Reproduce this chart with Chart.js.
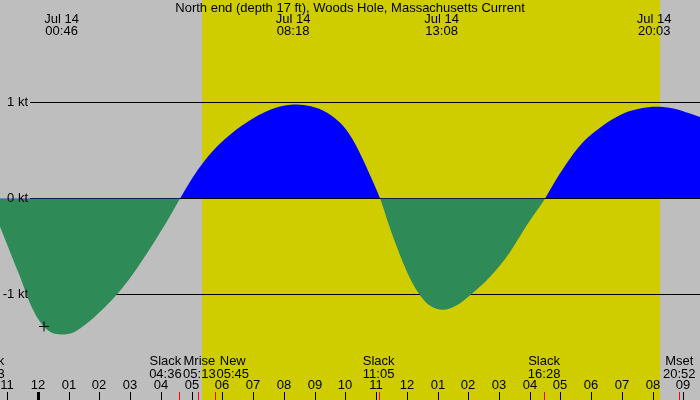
<!DOCTYPE html>
<html>
<head>
<meta charset="utf-8">
<script src="https://cdn.jsdelivr.net/npm/chart.js@4/dist/chart.umd.min.js"></script>
<style>
  html, body { margin: 0; padding: 0; background: #bebebe; }
  #tideChart { display: block; }
</style>
</head>
<body>
<canvas id="tideChart" width="700" height="400"></canvas>
<script>
// Chart title
const chartTitle = 'North end (depth 17 ft), Woods Hole, Massachusetts Current';

// Current speed (kt), hours from Jul 14 00:00
const tideHours = [-1.617, -1.237, -0.911, -0.586, -0.260, 0.065, 0.390, 0.771, 1.149, 1.585, 2.018, 2.561, 3.101, 3.645, 4.188, 4.621,
    4.946, 5.272, 5.815, 6.355, 6.899, 7.442, 7.982, 8.308, 8.744, 9.284, 9.828, 10.153, 10.479, 10.804, 11.13,
    11.455, 11.78, 12.106, 12.431, 12.757, 13.17, 13.625, 14.058, 14.709, 15.359, 15.903, 16.498,
    16.879, 17.312, 17.745, 18.396, 19.047, 19.59, 20.134, 20.673, 21.217, 21.542];
const tideKnots = [0, -0.295, -0.556, -0.816, -1.094, -1.285, -1.389, -1.417, -1.396, -1.302, -1.18, -1.0, -0.78, -0.52, -0.243, 0,
    0.174, 0.33, 0.538, 0.694, 0.816, 0.91, 0.965, 0.979, 0.968, 0.915, 0.79, 0.66, 0.469, 0.243, 0,
    -0.3125, -0.59, -0.833, -1.007, -1.118, -1.16, -1.111, -1.007, -0.816, -0.556, -0.278, 0,
    0.208, 0.417, 0.59, 0.764, 0.885, 0.9375, 0.955, 0.9375, 0.885, 0.85];

// Max flood / max ebb labels along the top
const peakHours = [0.767, 8.3, 13.133, 20.05];
const peakClock = ['00:46', '08:18', '13:08', '20:03'];
const peakDate = 'Jul 14';

// Events along the bottom
const eventNames = ['Slack', 'Slack', 'Mrise', 'New', 'Slack', 'Slack', 'Mset'];
const eventClock = ['22:23', '04:36', '05:13', '05:45', '11:05', '16:28', '20:52'];
const eventHours = [-1.617, 4.6, 5.217, 5.75, 11.083, 16.467, 20.867];

// Hour tick labels
const hourTicks = [-1, 0, 1, 2, 3, 4, 5, 6, 7, 8, 9, 10, 11, 12, 13, 14, 15, 16, 17, 18, 19, 20, 21];
const hourLabels = ['11', '12', '01', '02', '03', '04', '05', '06', '07', '08', '09', '10',
    '11', '12', '01', '02', '03', '04', '05', '06', '07', '08', '09'];

// Speed grid lines
const knotLines = [1, 0, -1];
const knotLabels = ['1 kt', '0 kt', '-1 kt'];

// Daylight (sunrise, sunset) and the "now" mark
const daylight = [5.337, 20.24];
const nowMark = { x: 0.195, y: -1.333 };

const xMin = -1.2376, xMax = 21.54;
const yMax = 198.5 / 96, yMin = -(400 - 198.5) / 96;

const FONT = '13px "Liberation Sans", Arial, sans-serif';
const GREY = '#bebebe';
const DAY = '#cfcd00';

// label nudges so close events do not overlap
const eventNudge = [0, -14, 1, 18, 0, 0, 0];

const tidePlugin = {
    id: 'tidePlugin',
    beforeDraw(chart) {
        const ctx = chart.ctx;
        const xs = chart.scales.x;
        ctx.save();
        ctx.fillStyle = GREY;
        ctx.fillRect(0, 0, chart.width, chart.height);
        ctx.fillStyle = DAY;
        const x1 = Math.round(xs.getPixelForValue(daylight[0]));
        const x2 = Math.round(xs.getPixelForValue(daylight[1]));
        ctx.fillRect(x1, 0, x2 - x1, chart.height);
        ctx.restore();
    },
    beforeDatasetsDraw(chart) {
        const ctx = chart.ctx;
        const ys = chart.scales.y;
        ctx.save();
        ctx.strokeStyle = '#000';
        ctx.lineWidth = 1;
        knotLines.forEach(v => {
            const y = Math.floor(ys.getPixelForValue(v)) + 0.5;
            ctx.beginPath();
            ctx.moveTo(30, y);
            ctx.lineTo(chart.width, y);
            ctx.stroke();
        });
        ctx.restore();
    },
    afterDatasetsDraw(chart) {
        const ctx = chart.ctx;
        const xs = chart.scales.x;
        const ys = chart.scales.y;
        ctx.save();

        // zero line shows through the flood parts only
        ctx.strokeStyle = '#000';
        ctx.lineWidth = 1;
        const y0 = Math.floor(ys.getPixelForValue(0)) + 0.5;
        let start = null;
        for (let i = 0; i < tideHours.length; i++) {
            if (tideKnots[i] > 0 && start === null) start = tideHours[i - 1];
            if (tideKnots[i] <= 0 && start !== null && i > 0 && tideKnots[i - 1] > 0) {
                ctx.beginPath();
                ctx.moveTo(xs.getPixelForValue(start), y0);
                ctx.lineTo(xs.getPixelForValue(tideHours[i]), y0);
                ctx.stroke();
                start = null;
            }
        }
        if (start !== null) {
            ctx.beginPath();
            ctx.moveTo(xs.getPixelForValue(start), y0);
            ctx.lineTo(chart.width, y0);
            ctx.stroke();
        }

        ctx.font = FONT;
        ctx.fillStyle = '#000';
        ctx.textBaseline = 'middle';

        // speed labels
        ctx.textAlign = 'right';
        knotLines.forEach((v, i) => {
            ctx.fillText(knotLabels[i], 28, ys.getPixelForValue(v));
        });

        // title
        ctx.textAlign = 'center';
        ctx.fillText(chartTitle, 350, 8);

        // peaks
        peakHours.forEach((h, i) => {
            const x = xs.getPixelForValue(h);
            ctx.fillText(peakDate, x, 19);
            ctx.fillText(peakClock[i], x, 31);
        });

        // events
        eventHours.forEach((h, i) => {
            const x = xs.getPixelForValue(h) + eventNudge[i];
            ctx.fillText(eventNames[i], x, 361);
            ctx.fillText(eventClock[i], x, 374);
        });

        // hour ticks
        hourTicks.forEach((h, i) => {
            const x = Math.round(xs.getPixelForValue(h));
            ctx.fillText(hourLabels[i], x, 385);
            ctx.fillRect(h === 0 ? x - 1 : x, 392, h === 0 ? 3 : 1, 8);
        });

        // event ticks
        ctx.fillStyle = '#ff0000';
        eventHours.forEach(h => {
            const x = Math.round(xs.getPixelForValue(h));
            ctx.fillRect(x, 392, 1, 8);
        });
        ctx.restore();
    }
};

const tideData = tideHours.map((h, i) => ({ x: h, y: tideKnots[i] }));

new Chart(document.getElementById('tideChart'), {
    type: 'line',
    data: {
        datasets: [{
            data: tideData,
            order: 2,
            borderWidth: 0,
            borderColor: 'rgba(0,0,0,0)',
            pointRadius: 0,
            cubicInterpolationMode: 'monotone',
            fill: { target: 'origin', above: '#0000ff', below: '#2e8b57' }
        }, {
            type: 'scatter',
            data: [nowMark],
            order: 1,
            pointStyle: 'cross',
            pointRadius: 5,
            borderColor: '#000',
            borderWidth: 1
        }]
    },
    options: {
        responsive: false,
        animation: false,
        devicePixelRatio: 1,
        layout: { padding: 0, autoPadding: false },
        plugins: { legend: { display: false }, tooltip: { enabled: false }, title: { display: false } },
        scales: {
            x: { type: 'linear', display: false, min: xMin, max: xMax },
            y: { type: 'linear', display: false, min: yMin, max: yMax }
        }
    },
    plugins: [tidePlugin]
});
</script>
</body>
</html>
